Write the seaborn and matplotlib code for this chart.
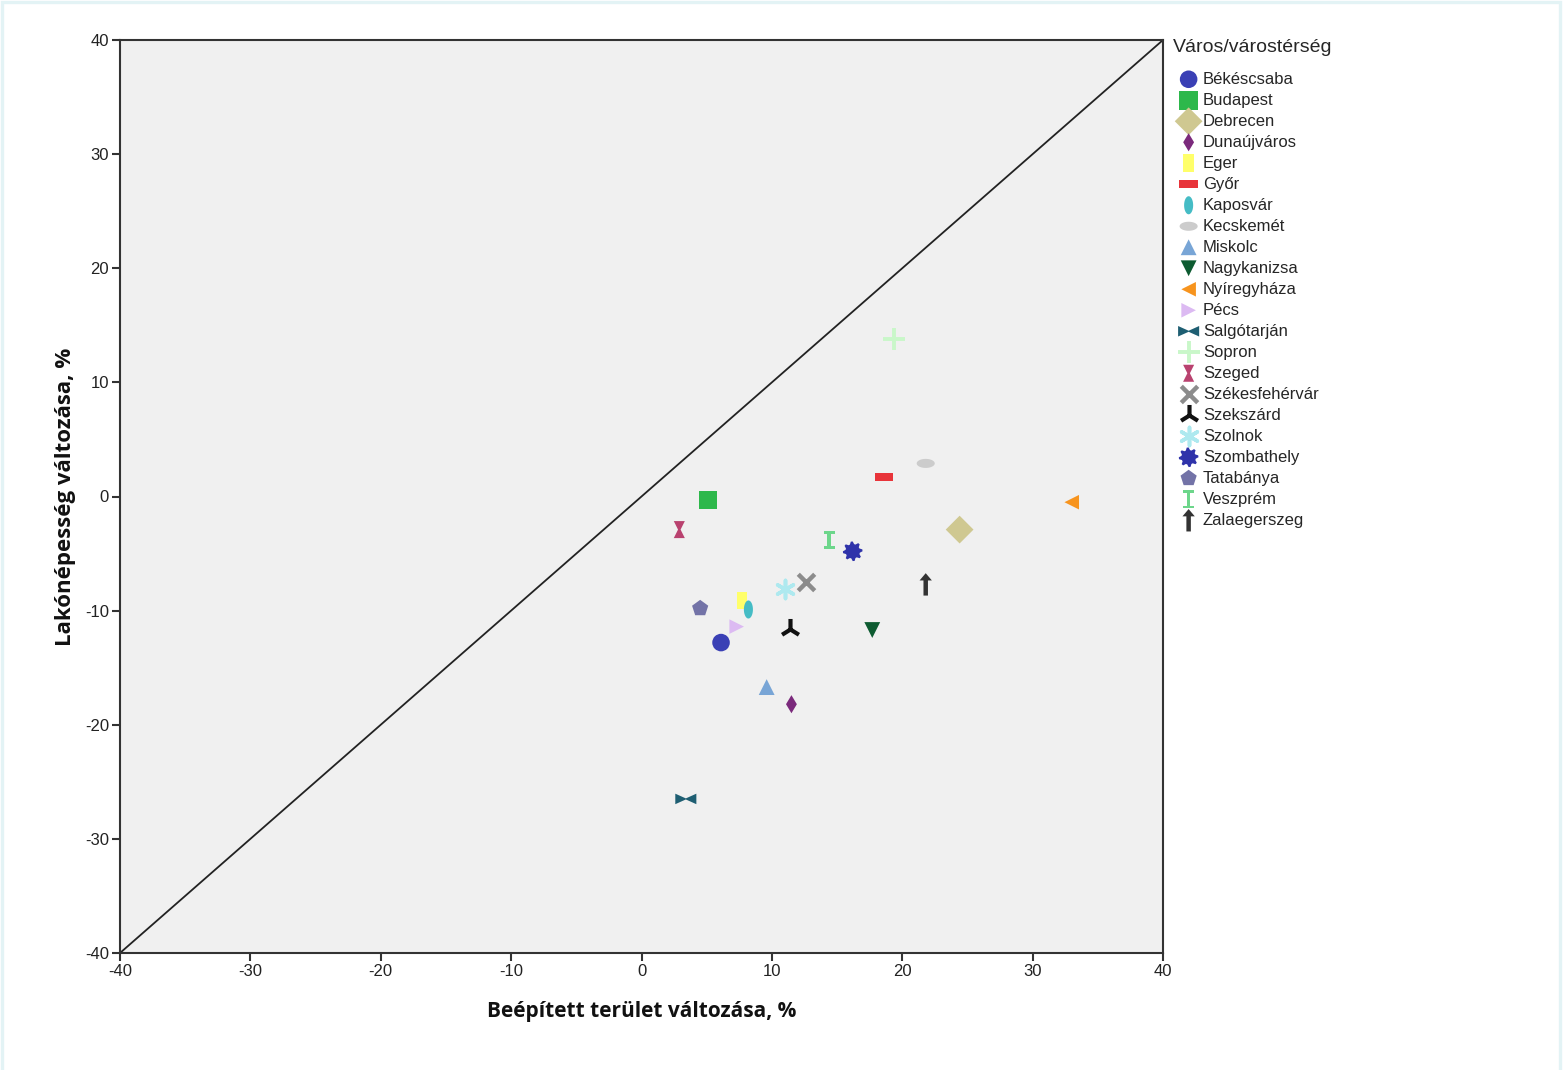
import matplotlib

matplotlib.use("Agg")
import matplotlib.pyplot as plt
import numpy as np
import seaborn as sns
from matplotlib.path import Path
from matplotlib.patches import Rectangle

sns.set_theme(style="white")
plt.rcParams["font.family"] = ["Liberation Sans", "DejaVu Sans"]
plt.rcParams["axes.unicode_minus"] = False

# --- data ---
cities = [
    "Békéscsaba", "Budapest", "Debrecen", "Dunaújváros", "Eger", "Győr",
    "Kaposvár", "Kecskemét", "Miskolc", "Nagykanizsa", "Nyíregyháza", "Pécs",
    "Salgótarján", "Sopron", "Szeged", "Székesfehérvár", "Szekszárd", "Szolnok",
    "Szombathely", "Tatabánya", "Veszprém", "Zalaegerszeg",
]
built_change = [6.1, 5.1, 24.4, 11.5, 7.7, 18.6, 8.2, 21.8, 9.6, 17.7, 33.0, 7.3,
                3.4, 19.4, 2.9, 12.6, 11.4, 11.0, 16.2, 4.5, 14.4, 21.8]
pop_change = [-12.8, -0.3, -2.9, -18.2, -9.1, 1.7, -9.9, 2.9, -16.7, -11.7, -0.5, -11.4,
              -26.5, 13.8, -2.9, -7.5, -11.6, -8.1, -4.8, -9.8, -3.8, -7.7]
colors = ["#3a40b5", "#2db84b", "#cfc891", "#7b2a7c", "#ffff6a", "#e8343a",
          "#45bcc5", "#cccccc", "#78a5d6", "#0d5b31", "#f7941e", "#dcbaf2",
          "#1e5e72", "#c9f7c9", "#b9426f", "#8c8c8c", "#111111", "#aee9ef",
          "#2f33aa", "#7373a7", "#6dd68b", "#333333"]


def poly(pts):
    pts = np.asarray(pts, dtype=float)
    codes = [Path.MOVETO] + [Path.LINETO] * (len(pts) - 1) + [Path.CLOSEPOLY]
    return Path(np.vstack([pts, pts[:1]]), codes)


def ellipse(w, h):
    t = np.linspace(0, 2 * np.pi, 40, endpoint=False)
    return poly(np.column_stack([w * np.cos(t), h * np.sin(t)]))


def flower(n=8, r1=1.0, r2=0.74):
    t = np.linspace(0, 2 * np.pi, 4 * n, endpoint=False)
    r = np.where((np.arange(4 * n) // 2) % 2 == 0, r1, r2)
    return poly(np.column_stack([r * np.cos(t), r * np.sin(t)]))


tall_rect = poly([(-0.6, -1), (0.6, -1), (0.6, 1), (-0.6, 1)])
wide_rect = poly([(-1, -0.45), (1, -0.45), (1, 0.45), (-1, 0.45)])
bowtie = poly([(-1, -0.5), (0, -0.05), (1, -0.5), (1, 0.5), (0, 0.05), (-1, 0.5)])
hourglass = poly([(-0.65, 1), (0.65, 1), (0.15, 0), (0.65, -1), (-0.65, -1), (-0.15, 0)])
ibeam = poly([(-0.6, 1), (0.6, 1), (0.6, 0.72), (0.2, 0.72), (0.2, -0.72), (0.6, -0.72),
              (0.6, -1), (-0.6, -1), (-0.6, -0.72), (-0.2, -0.72), (-0.2, 0.72), (-0.6, 0.72)])
arrow = poly([(0, 1), (0.55, 0.35), (0.2, 0.35), (0.2, -1), (-0.2, -1), (-0.2, 0.35), (-0.55, 0.35)])

markers = ["o", "s", "D", "d", tall_rect, wide_rect, ellipse(0.5, 1), ellipse(1, 0.5),
           "^", "v", "<", ">", bowtie, "+", hourglass, "x", "2", (6, 2, 0),
           flower(), "p", ibeam, arrow]
sizes = [160, 180, 200, 85, 160, 180, 170, 170, 130, 130, 110, 110,
         230, 260, 150, 140, 230, 170, 200, 150, 160, 260]
widths = {"+": 2.8, "x": 3.2, "2": 3.0, (6, 2, 0): 2.6}

fig = plt.figure(figsize=(15.63, 10.70), dpi=100)
fig.patch.set_facecolor("white")
fig.patches.append(Rectangle((1.5 / 1563, -0.01), 1 - 4.5 / 1563, 1 - 1.5 / 1070 + 0.01,
                             transform=fig.transFigure, fill=False,
                             edgecolor="#e3f3f5", linewidth=2.4, zorder=10))
ax = fig.add_axes([120 / 1563, 1 - 953 / 1070, 1043 / 1563, 913 / 1070])
ax.set_facecolor("#f0f0f0")

ax.plot([-40, 40], [-40, 40], color="#222222", linewidth=1.3, zorder=1)

for name, xv, yv, c, m, s in zip(cities, built_change, pop_change, colors, markers, sizes):
    lw = widths.get(m, 0) if isinstance(m, (str, tuple)) else 0
    sns.scatterplot(
        x=[xv], y=[yv], ax=ax, marker=m, s=s, color=c, label=name,
        linewidth=lw, edgecolor=c if lw else "none", zorder=3,
    )

ax.set_xlim(-40, 40)
ax.set_ylim(-40, 40)
ax.set_xticks(np.arange(-40, 41, 10))
ax.set_yticks(np.arange(-40, 41, 10))
for side in ax.spines.values():
    side.set_color("#333333")
    side.set_linewidth(1.5)
ax.tick_params(axis="both", direction="out", length=6, width=1.5, color="#333333",
               labelsize=12, labelcolor="#222222", pad=2, left=True, bottom=True)

label_font = dict(family=["Open Sans", "DejaVu Sans"], fontweight="bold", color="#111111")
ax.set_xlabel("Beépített terület változása, %", labelpad=16, fontsize=15, **label_font)
ax.set_ylabel("Lakónépesség változása, %", labelpad=6, fontsize=16, **label_font)

leg = ax.legend(title="Város/várostérség", loc="upper left", bbox_to_anchor=(1.003, 1.008),
                frameon=False, fontsize=12, title_fontsize=14, handletextpad=-0.1,
                labelspacing=0.36, borderaxespad=0, markerscale=1.0, handlelength=1.9)
leg._legend_box.align = "left"
leg._legend_box.sep = 11

fig.savefig("out.png", dpi=100, facecolor=fig.get_facecolor())
